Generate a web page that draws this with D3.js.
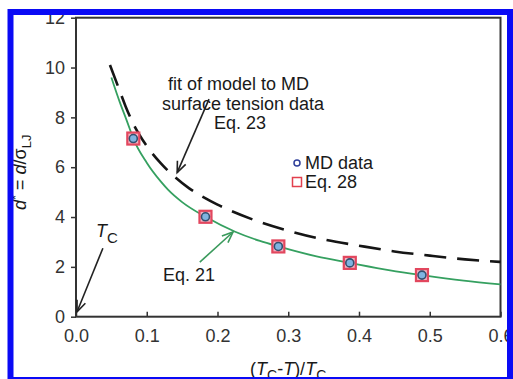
<!DOCTYPE html>
<html lang="en">
<head>
    <meta charset="UTF-8">
    <title>d* vs reduced temperature</title>
    <script src="https://d3js.org/d3.v7.min.js"></script>
    <style>
        body {
            margin: 0;
            padding: 0;
            background: #fff;
            font-family: "Liberation Sans", Arial, sans-serif;
        }
        .tick text {
            font-family: "Liberation Sans", Arial, sans-serif;
            font-size: 18px;
            fill: #333;
        }
        .anno {
            font-size: 18px;
            fill: #1a1a1a;
        }
    </style>
</head>
<body>
    <svg id="chart" width="513" height="379"></svg>

    <script>
        // x tick labels / y ticks
        const xTicks = [0, 0.1, 0.2, 0.3, 0.4, 0.5, 0.6];
        const yTicks = [0, 2, 4, 6, 8, 10, 12];

        // MD data points (circles) and Eq. 28 (squares), same positions
        const mdX = [0.081, 0.183, 0.286, 0.387, 0.489];
        const mdY = [7.15, 4.01, 2.82, 2.16, 1.67];

        // Eq. 21 (green solid curve)
        const eq21X = [0.05, 0.062, 0.072, 0.081, 0.1, 0.12, 0.13, 0.15, 0.183, 0.225, 0.26, 0.286, 0.34, 0.387, 0.444, 0.489, 0.548, 0.6];
        const eq21Y = [9.6, 8.6, 7.85, 7.15, 6.18, 5.42, 5.1, 4.6, 4.01, 3.41, 3.04, 2.82, 2.42, 2.16, 1.86, 1.67, 1.45, 1.30];

        // Eq. 23 (black dashed curve, fit of model to MD surface tension data)
        const eq23X = [0.048, 0.06, 0.07, 0.08, 0.1, 0.12, 0.14, 0.16, 0.18, 0.2, 0.25, 0.3, 0.35, 0.4, 0.45, 0.5, 0.55, 0.6];
        const eq23Y = [10.1, 9.2, 8.45, 7.8, 6.85, 6.15, 5.6, 5.15, 4.8, 4.5, 3.9, 3.45, 3.1, 2.85, 2.62, 2.45, 2.3, 2.2];

        const svg = d3.select('#chart');

        const x = d3.scaleLinear().domain([0, 0.6]).range([76, 500.5]);
        const y = d3.scaleLinear().domain([0, 12]).range([316.7, 17.7]);

        // arrow head
        const defs = svg.append('defs');
        function addMarker(id, color) {
            defs.append('marker')
                .attr('id', id)
                .attr('viewBox', '-12 -6 14 12')
                .attr('refX', 0).attr('refY', 0)
                .attr('markerWidth', 14).attr('markerHeight', 12)
                .attr('markerUnits', 'userSpaceOnUse')
                .attr('orient', 'auto')
                .append('path')
                .attr('d', 'M-11,-4.5 L0,0 L-11,4.5')
                .attr('fill', 'none')
                .attr('stroke', color)
                .attr('stroke-width', 1.6);
        }
        addMarker('arrBlack', '#222');
        addMarker('arrGreen', '#3a9a5c');

        // y axis label (partly under the blue frame, like the original)
        const ylab = svg.append('text')
            .attr('class', 'anno')
            .attr('transform', 'translate(26,210) rotate(-90)')
            .attr('fill', '#333');
        ylab.append('tspan').attr('font-style', 'italic').text('d');
        ylab.append('tspan').attr('dy', -6).attr('font-size', 13).text('*');
        ylab.append('tspan').attr('dy', 6).text(' = ');
        ylab.append('tspan').attr('font-style', 'italic').text('d');
        ylab.append('tspan').text('/σ');
        ylab.append('tspan').attr('dy', 5).attr('font-size', 13).text('LJ');

        // axes
        svg.append('g')
            .attr('transform', `translate(0,${y(0)})`)
            .call(d3.axisBottom(x).tickValues(xTicks).tickFormat(d3.format('.1f'))
                .tickSizeInner(-5).tickSizeOuter(0).tickPadding(13))
            .call(g => g.select('.domain').remove())
            .call(g => g.selectAll('.tick line').attr('stroke', '#333').attr('stroke-width', 1.5));

        svg.append('g')
            .attr('transform', `translate(${x(0)},0)`)
            .call(d3.axisLeft(y).tickValues(yTicks).tickSizeInner(5).tickSizeOuter(0).tickPadding(6))
            .call(g => g.select('.domain').remove())
            .call(g => g.selectAll('.tick line').attr('stroke', '#333').attr('stroke-width', 1.5));

        // plot frame
        svg.append('rect')
            .attr('x', x(0)).attr('y', y(12))
            .attr('width', x(0.6) - x(0)).attr('height', y(0) - y(12))
            .attr('fill', 'none')
            .attr('stroke', '#333')
            .attr('stroke-width', 2);

        // curves
        const line = d3.line()
            .x(d => x(d[0]))
            .y(d => y(d[1]))
            .curve(d3.curveMonotoneX);

        svg.append('path')
            .datum(eq23X.map((v, i) => [v, eq23Y[i]]))
            .attr('d', line)
            .attr('fill', 'none')
            .attr('stroke', '#151515')
            .attr('stroke-width', 2.6)
            .attr('stroke-dasharray', '22,11');

        svg.append('path')
            .datum(eq21X.map((v, i) => [v, eq21Y[i]]))
            .attr('d', line)
            .attr('fill', 'none')
            .attr('stroke', '#35a060')
            .attr('stroke-width', 1.8);

        // Eq. 28 squares
        const sq = 12;
        svg.append('g').selectAll('rect')
            .data(mdX.map((v, i) => [v, mdY[i]]))
            .join('rect')
            .attr('x', d => x(d[0]) - sq / 2)
            .attr('y', d => y(d[1]) - sq / 2)
            .attr('width', sq).attr('height', sq)
            .attr('fill', '#f2b3c2')
            .attr('stroke', '#e2475e')
            .attr('stroke-width', 2.2);

        // MD data circles
        svg.append('g').selectAll('circle')
            .data(mdX.map((v, i) => [v, mdY[i]]))
            .join('circle')
            .attr('cx', d => x(d[0]))
            .attr('cy', d => y(d[1]))
            .attr('r', 4)
            .attr('fill', '#7fb4e0')
            .attr('stroke', '#34506f')
            .attr('stroke-width', 1.6);

        // annotation: fit of model
        const fitLines = ['fit of model to MD', 'surface tension data', 'Eq. 23'];
        const fitStart = [168, 162, 214];
        const fitBase = [90, 110, 129];
        svg.append('g').selectAll('text')
            .data(fitLines)
            .join('text')
            .attr('class', 'anno')
            .attr('x', (d, i) => fitStart[i])
            .attr('y', (d, i) => fitBase[i])
            .text(d => d);

        // arrows (data coordinates)
        const arrows = [
            { from: [0.188, 8.73], to: [0.143, 5.78], color: '#222', marker: 'arrBlack' },
            { from: [0.038, 2.75], to: [0.0015, 0.2], color: '#222', marker: 'arrBlack' },
            { from: [0.175, 2.19], to: [0.222, 3.4], color: '#3a9a5c', marker: 'arrGreen' }
        ];
        svg.append('g').selectAll('line')
            .data(arrows)
            .join('line')
            .attr('x1', d => x(d.from[0])).attr('y1', d => y(d.from[1]))
            .attr('x2', d => x(d.to[0])).attr('y2', d => y(d.to[1]))
            .attr('stroke', d => d.color)
            .attr('stroke-width', 1.6)
            .attr('marker-end', d => `url(#${d.marker})`);

        // T_C label
        const tc = svg.append('text').attr('class', 'anno').attr('x', 96).attr('y', 237);
        tc.append('tspan').attr('font-style', 'italic').text('T');
        tc.append('tspan').attr('dy', 6).attr('font-size', 15).text('C');

        // Eq. 21 label
        svg.append('text')
            .attr('class', 'anno')
            .attr('x', 163).attr('y', 281)
            .attr('fill', '#3a9a5c')
            .text('Eq. 21');

        // legend
        svg.append('circle')
            .attr('cx', 297).attr('cy', 163).attr('r', 3)
            .attr('fill', '#fff').attr('stroke', '#2f3f9a').attr('stroke-width', 1.5);
        svg.append('text').attr('class', 'anno')
            .attr('x', 305).attr('y', 169).attr('fill', '#3545a5').text('MD data');
        svg.append('rect')
            .attr('x', 292.5).attr('y', 177.5).attr('width', 9).attr('height', 9)
            .attr('fill', '#fff').attr('stroke', '#e2404e').attr('stroke-width', 1.5);
        svg.append('text').attr('class', 'anno')
            .attr('x', 305).attr('y', 188).attr('fill', '#e2404e').text('Eq. 28');

        // x axis label (cut by the frame)
        const xlab = svg.append('text').attr('class', 'anno').attr('x', 250).attr('y', 375).attr('fill', '#333');
        xlab.append('tspan').text('(');
        xlab.append('tspan').attr('font-style', 'italic').text('T');
        xlab.append('tspan').attr('dy', 5).attr('font-size', 14).text('C');
        xlab.append('tspan').attr('dy', -5).text('-');
        xlab.append('tspan').attr('font-style', 'italic').text('T');
        xlab.append('tspan').text(')/');
        xlab.append('tspan').attr('font-style', 'italic').text('T');
        xlab.append('tspan').attr('dy', 5).attr('font-size', 14).text('C');

        // blue border around the figure
        svg.append('rect')
            .attr('x', 10.5).attr('y', 12)
            .attr('width', 499.5).attr('height', 368)
            .attr('fill', 'none')
            .attr('stroke', '#0a0af5')
            .attr('stroke-width', 6);
    </script>
</body>
</html>
